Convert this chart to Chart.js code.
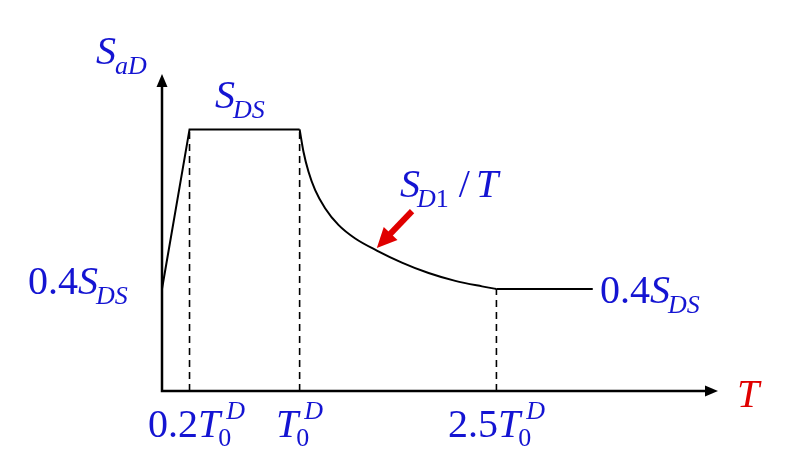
<!DOCTYPE html>
<html>
<head>
<meta charset="utf-8">
<script src="https://cdn.jsdelivr.net/npm/chart.js@4.4.1/dist/chart.umd.min.js"></script>
<style>
  body { margin: 0; background: #fff; }
  canvas { display: block; }
</style>
</head>
<body>
<canvas id="spectrum" width="793" height="471"></canvas>
<script>
// Design spectrum S_aD(T), T in units of T0^D, S_aD in units of S_DS
const riseT = [0, 0.2, 1.0];
const riseSa = [0.39, 1.0, 1.0];

// descending branch S_D1 / T
const curveT = [1.0, 1.028, 1.064, 1.113, 1.185, 1.282, 1.404, 1.561, 1.743, 1.937, 2.131, 2.325, 2.43];
const curveSa = [1.0, 0.915, 0.839, 0.768, 0.699, 0.635, 0.583, 0.537, 0.491, 0.451, 0.421, 0.400, 0.39];

const tailT = [2.43, 3.13];
const tailSa = [0.39, 0.39];

// dashed drop lines + tick labels on the T axis
const markT = [0.2, 1.0, 2.43];
const markSa = [1.0, 1.0, 0.39];
const tickLabels = ['0.2', '', '2.5'];

const BLUE = '#1414d2';
const RED = '#e00000';
const FONTS = {
    n: '40px "Liberation Serif"',
    i: 'italic 40px "Liberation Serif"',
    sn: '26px "Liberation Serif"',
    si: 'italic 26px "Liberation Serif"'
};

function toXY(xs, ys) {
    return xs.map((x, i) => ({ x: x, y: ys[i] }));
}

// draws a run of text pieces with sub/superscripts, returns width
function drawRuns(ctx, runs, x, y, draw) {
    let pen = x, lastStart = x;
    runs.forEach(r => {
        ctx.font = FONTS[r.f];
        const start = (r.stack ? lastStart : pen) + (r.dx || 0);
        if (draw) ctx.fillText(r.t, start, y + (r.dy || 0));
        const end = start + ctx.measureText(r.t).width;
        if (r.stack) pen = Math.max(pen, end);
        else { lastStart = start; pen = end; }
    });
    return pen - x;
}

function sDS() {
    return [{ t: 'S', f: 'i' }, { t: 'DS', f: 'si', dy: 10, dx: -2 }];
}

function arrowHead(ctx, x1, y1, x2, y2, len, half) {
    const a = Math.atan2(y2 - y1, x2 - x1);
    ctx.beginPath();
    ctx.moveTo(x2, y2);
    ctx.lineTo(x2 - len * Math.cos(a) + half * Math.sin(a), y2 - len * Math.sin(a) - half * Math.cos(a));
    ctx.lineTo(x2 - len * Math.cos(a) - half * Math.sin(a), y2 - len * Math.sin(a) + half * Math.cos(a));
    ctx.closePath();
    ctx.fill();
}

const tickShift = [7, 0, 0];

const axesPlugin = {
    id: 'axesArrows',
    beforeDatasetsDraw(chart) {
        const { ctx, chartArea: a } = chart;
        ctx.save();
        ctx.strokeStyle = '#000';
        ctx.fillStyle = '#000';
        ctx.lineWidth = 2.5;
        ctx.beginPath();
        ctx.moveTo(a.left, a.top + 8);
        ctx.lineTo(a.left, a.bottom);
        ctx.lineTo(a.right - 8, a.bottom);
        ctx.stroke();
        arrowHead(ctx, a.left, a.bottom, a.left, a.top, 13, 5.5);
        arrowHead(ctx, a.left, a.bottom, a.right, a.bottom, 13, 5.5);
        ctx.restore();
    },
    afterDraw(chart) {
        const { ctx } = chart;
        const xs = chart.scales.x, ys = chart.scales.y;
        ctx.save();
        ctx.textBaseline = 'alphabetic';
        ctx.textAlign = 'left';

        // red pointer to the S_D1/T branch
        const tx = xs.getPixelForValue(1.561), ty = ys.getPixelForValue(0.547);
        const fx = xs.getPixelForValue(1.817), fy = ys.getPixelForValue(0.688);
        ctx.strokeStyle = RED;
        ctx.fillStyle = RED;
        ctx.lineWidth = 6;
        const ang = Math.atan2(ty - fy, tx - fx);
        ctx.beginPath();
        ctx.moveTo(fx, fy);
        ctx.lineTo(tx - 16 * Math.cos(ang), ty - 16 * Math.sin(ang));
        ctx.stroke();
        arrowHead(ctx, fx, fy, tx, ty, 20, 9.5);

        ctx.fillStyle = BLUE;
        drawRuns(ctx, [{ t: 'S', f: 'i' }, { t: 'aD', f: 'si', dy: 10, dx: -1 }], 96, 64, true);
        drawRuns(ctx, sDS(), 215, 108, true);
        drawRuns(ctx, [{ t: 'S', f: 'i' }, { t: 'D', f: 'si', dy: 10, dx: -3 }, { t: '1', f: 'sn', dy: 10 },
            { t: ' / ', f: 'n' }, { t: 'T', f: 'i', dx: -4 }], 400, 197, true);
        drawRuns(ctx, [{ t: '0.4', f: 'n' }].concat(sDS()), 28, 294, true);
        drawRuns(ctx, [{ t: '0.4', f: 'n' }].concat(sDS()), 600, 303, true);

        // tick labels under the T axis
        markT.forEach((v, i) => {
            const runs = [];
            if (tickLabels[i]) runs.push({ t: tickLabels[i], f: 'n' });
            runs.push({ t: 'T', f: 'i' }, { t: '0', f: 'sn', dy: 9, dx: -2 }, { t: 'D', f: 'si', dy: -18, dx: 8, stack: true });
            const w = drawRuns(ctx, runs, 0, 0, false);
            drawRuns(ctx, runs, xs.getPixelForValue(v) - w / 2 + tickShift[i], 437, true);
        });

        ctx.fillStyle = RED;
        drawRuns(ctx, [{ t: 'T', f: 'i' }], 737, 407, true);
        ctx.restore();
    }
};

const dashed = markT.map((t, i) => ({
    data: toXY([t, t], [0, markSa[i]]),
    borderColor: '#000',
    borderWidth: 1.6,
    borderDash: [7, 5],
    pointRadius: 0
}));

new Chart(document.getElementById('spectrum'), {
    type: 'line',
    data: {
        datasets: dashed.concat([
            { data: toXY(riseT, riseSa), borderColor: '#000', borderWidth: 2, pointRadius: 0 },
            { data: toXY(curveT, curveSa), borderColor: '#000', borderWidth: 2, pointRadius: 0, cubicInterpolationMode: 'monotone' },
            { data: toXY(tailT, tailSa), borderColor: '#000', borderWidth: 2, pointRadius: 0 }
        ])
    },
    options: {
        responsive: false,
        animation: false,
        layout: { padding: { left: 162, top: 74, right: 75, bottom: 80 } },
        plugins: { legend: { display: false }, tooltip: { enabled: false } },
        scales: {
            x: { type: 'linear', min: 0, max: 4.04, display: false },
            y: { type: 'linear', min: 0, max: 1.212, display: false }
        }
    },
    plugins: [axesPlugin]
});
</script>
</body>
</html>
